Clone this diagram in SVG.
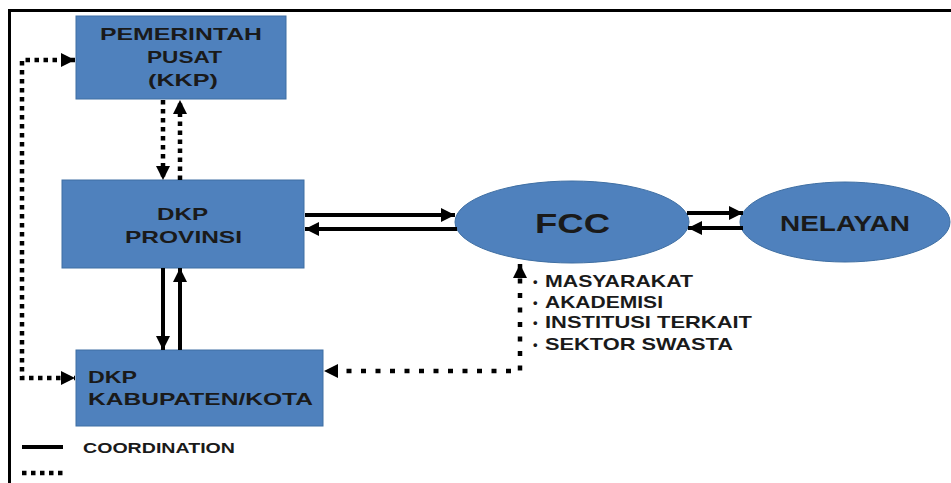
<svg xmlns="http://www.w3.org/2000/svg" width="951" height="483" viewBox="0 0 951 483">
<style>
.node{fill:#4f81bd;stroke:#3f6fa3;stroke-width:1}
.t{font-family:"Liberation Sans",Arial,sans-serif;font-weight:bold;fill:#1a1a1a;font-size:17px}
.b{font-family:"Liberation Sans",Arial,sans-serif;font-weight:bold;fill:#1a1a1a;font-size:13px}
.solid{fill:none;stroke:#000;stroke-width:4}
.dot{fill:none;stroke:#000;stroke-width:4.5;stroke-dasharray:4.5 4.5}
.dotw{fill:none;stroke:#000;stroke-width:4.5;stroke-dasharray:5 9.5}
</style>
<defs>
<marker id="ah" markerUnits="userSpaceOnUse" markerWidth="15" markerHeight="15" viewBox="0 0 15 15" refX="14" refY="7.5" orient="auto-start-reverse">
<path d="M0,0.5 L14,7.5 L0,14.5 z" fill="#000"/>
</marker>
</defs>
<rect width="951" height="483" fill="#fff"/>
<path d="M9.5 483 V10.5 H951" fill="none" stroke="#000" stroke-width="3"/>

<g id="pemerintah">
<rect class="node" x="76" y="16" width="210" height="83"/>
<text class="t" x="100" y="40" textLength="162" lengthAdjust="spacingAndGlyphs">PEMERINTAH</text>
<text class="t" x="147" y="63" textLength="75" lengthAdjust="spacingAndGlyphs">PUSAT</text>
<text class="t" x="148" y="86" textLength="70" lengthAdjust="spacingAndGlyphs">(KKP)</text>
</g>

<g id="provinsi">
<rect class="node" x="62" y="180" width="242" height="88"/>
<text class="t" x="157" y="220" textLength="51" lengthAdjust="spacingAndGlyphs">DKP</text>
<text class="t" x="125" y="243" textLength="117" lengthAdjust="spacingAndGlyphs">PROVINSI</text>
</g>

<g id="kabupaten">
<rect class="node" x="76" y="350" width="247" height="76"/>
<text class="t" x="88" y="383" textLength="49" lengthAdjust="spacingAndGlyphs">DKP</text>
<text class="t" x="88" y="405" textLength="225" lengthAdjust="spacingAndGlyphs">KABUPATEN/KOTA</text>
</g>

<g id="fcc">
<ellipse class="node" cx="572" cy="222" rx="117" ry="41"/>
<text class="t" x="535" y="233" style="font-size:28px" textLength="75" lengthAdjust="spacingAndGlyphs">FCC</text>
</g>

<g id="nelayan">
<ellipse class="node" cx="845" cy="222" rx="105" ry="40"/>
<text class="t" x="780" y="231" style="font-size:22px" textLength="130" lengthAdjust="spacingAndGlyphs">NELAYAN</text>
</g>

<g id="stakeholders">
<text class="b" x="533" y="286">•</text>
<text class="t" x="545" y="287" textLength="148" lengthAdjust="spacingAndGlyphs">MASYARAKAT</text>
<text class="b" x="533" y="307">•</text>
<text class="t" x="545" y="308" textLength="118" lengthAdjust="spacingAndGlyphs">AKADEMISI</text>
<text class="b" x="533" y="327">•</text>
<text class="t" x="545" y="328" textLength="207" lengthAdjust="spacingAndGlyphs">INSTITUSI TERKAIT</text>
<text class="b" x="533" y="349">•</text>
<text class="t" x="545" y="350" textLength="188" lengthAdjust="spacingAndGlyphs">SEKTOR SWASTA</text>
</g>

<g id="legend">
<line class="solid" x1="22" y1="447" x2="63" y2="447"/>
<text class="t" x="83" y="453" style="font-size:15px" textLength="152" lengthAdjust="spacingAndGlyphs">COORDINATION</text>
<line class="dot" x1="22" y1="473" x2="63" y2="473"/>
</g>

<g id="connectors">
<line class="dot" x1="163" y1="100" x2="163" y2="180" marker-end="url(#ah)"/>
<line class="dot" x1="180" y1="180" x2="180" y2="100" marker-end="url(#ah)"/>
<line class="solid" x1="163" y1="268" x2="163" y2="350" marker-end="url(#ah)"/>
<line class="solid" x1="180" y1="350" x2="180" y2="268" marker-end="url(#ah)"/>
<line class="solid" x1="305" y1="215" x2="455" y2="215" marker-end="url(#ah)"/>
<line class="solid" x1="457" y1="229" x2="305" y2="229" marker-end="url(#ah)"/>
<line class="solid" x1="687" y1="213" x2="743" y2="213" marker-end="url(#ah)"/>
<line class="solid" x1="743" y1="228" x2="688" y2="228" marker-end="url(#ah)"/>
<path class="dot" d="M75 60 H22 V378 H75" marker-start="url(#ah)" marker-end="url(#ah)"/>
<path class="dotw" d="M520 264 V371 H324" marker-start="url(#ah)" marker-end="url(#ah)"/>
</g>
</svg>
